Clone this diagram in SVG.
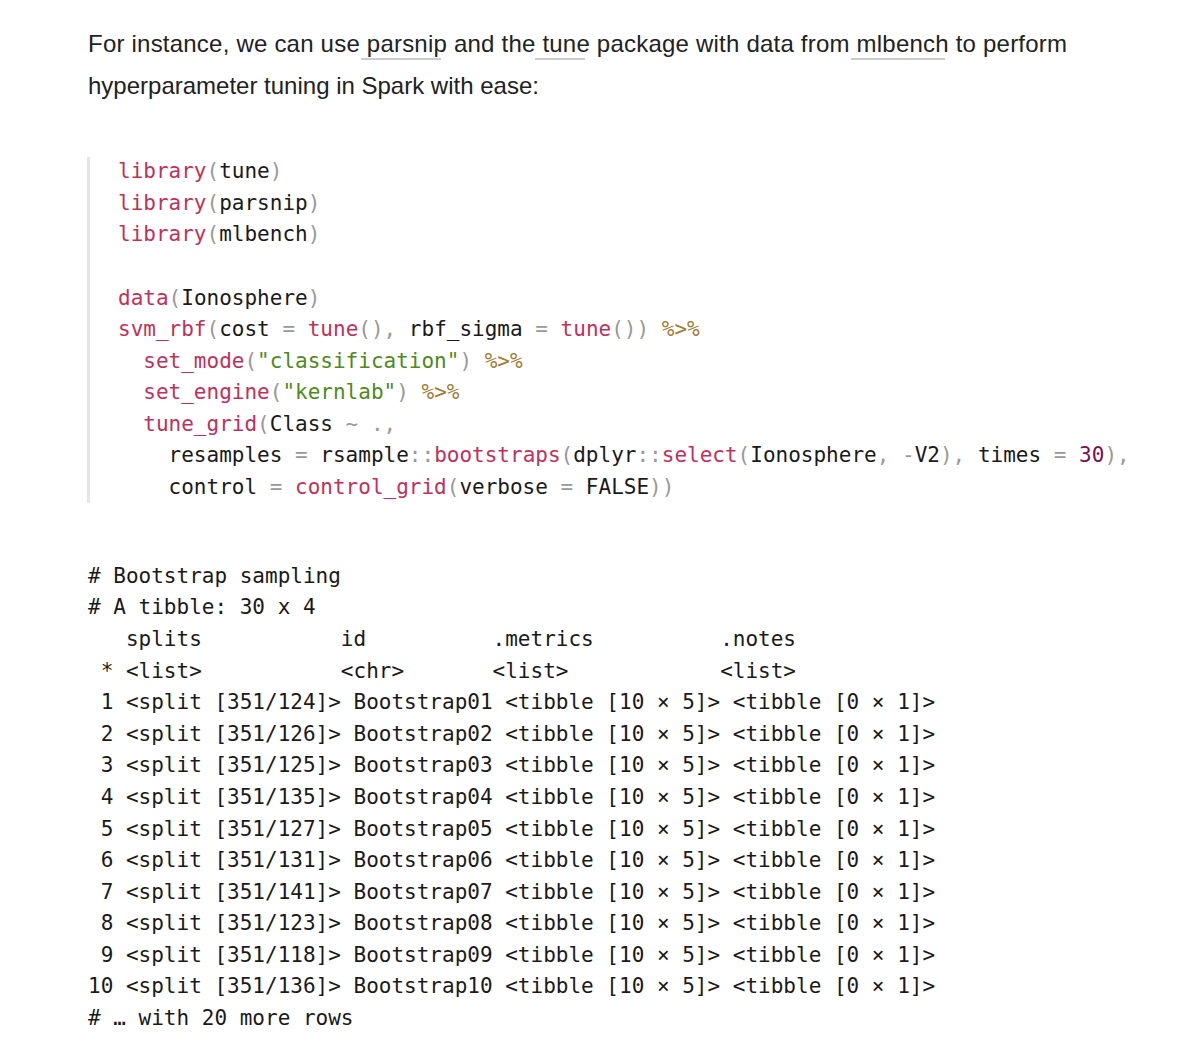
<svg xmlns="http://www.w3.org/2000/svg" width="1200" height="1058" viewBox="0 0 1200 1058">
<style>
.p{font-family:"Liberation Sans",Arial,sans-serif;font-size:24px;fill:#222}
.m{font-family:"DejaVu Sans Mono",monospace;font-size:21px;fill:#1a1a1a;white-space:pre}
.f{fill:#c2305a}.g{fill:#999}.s{fill:#4e8a1c}.o{fill:#a07a30}.n{fill:#7a1050}
</style>
<rect width="1200" height="1058" fill="#fff"/>
<text class="p" x="88" y="52" textLength="979">For instance, we can use parsnip and the tune package with data from mlbench to perform</text>
<text class="p" x="88" y="94">hyperparameter tuning in Spark with ease:</text>
<g stroke="#999" stroke-width="1.2"><line x1="361" y1="59" x2="441" y2="59"/><line x1="535" y1="59" x2="585" y2="59"/><line x1="851" y1="59" x2="945" y2="59"/></g>
<rect x="87" y="157" width="3" height="346" fill="#e6e6e6"/>
<g class="m">
<text xml:space="preserve" x="118" y="178"><tspan class="f">library</tspan><tspan class="g">(</tspan>tune<tspan class="g">)</tspan></text>
<text xml:space="preserve" x="118" y="210"><tspan class="f">library</tspan><tspan class="g">(</tspan>parsnip<tspan class="g">)</tspan></text>
<text xml:space="preserve" x="118" y="241"><tspan class="f">library</tspan><tspan class="g">(</tspan>mlbench<tspan class="g">)</tspan></text>
<text xml:space="preserve" x="118" y="305"><tspan class="f">data</tspan><tspan class="g">(</tspan>Ionosphere<tspan class="g">)</tspan></text>
<text xml:space="preserve" x="118" y="336"><tspan class="f">svm_rbf</tspan><tspan class="g">(</tspan>cost <tspan class="g">=</tspan> <tspan class="f">tune</tspan><tspan class="g">(),</tspan> rbf_sigma <tspan class="g">=</tspan> <tspan class="f">tune</tspan><tspan class="g">())</tspan> <tspan class="o">%&gt;%</tspan></text>
<text xml:space="preserve" x="118" y="368">  <tspan class="f">set_mode</tspan><tspan class="g">(</tspan><tspan class="s">"classification"</tspan><tspan class="g">)</tspan> <tspan class="o">%&gt;%</tspan></text>
<text xml:space="preserve" x="118" y="399">  <tspan class="f">set_engine</tspan><tspan class="g">(</tspan><tspan class="s">"kernlab"</tspan><tspan class="g">)</tspan> <tspan class="o">%&gt;%</tspan></text>
<text xml:space="preserve" x="118" y="431">  <tspan class="f">tune_grid</tspan><tspan class="g">(</tspan>Class <tspan class="g">~ .,</tspan></text>
<text xml:space="preserve" x="118" y="462">    resamples <tspan class="g">=</tspan> rsample<tspan class="g">::</tspan><tspan class="f">bootstraps</tspan><tspan class="g">(</tspan>dplyr<tspan class="g">::</tspan><tspan class="f">select</tspan><tspan class="g">(</tspan>Ionosphere<tspan class="g">,</tspan> <tspan class="g">-</tspan>V2<tspan class="g">),</tspan> times <tspan class="g">=</tspan> <tspan class="n">30</tspan><tspan class="g">),</tspan></text>
<text xml:space="preserve" x="118" y="494">    control <tspan class="g">=</tspan> <tspan class="f">control_grid</tspan><tspan class="g">(</tspan>verbose <tspan class="g">=</tspan> FALSE<tspan class="g">))</tspan></text>
<text xml:space="preserve" x="88" y="583"># Bootstrap sampling</text>
<text xml:space="preserve" x="88" y="614"># A tibble: 30 x 4</text>
<text xml:space="preserve" x="88" y="646">   splits           id          .metrics          .notes</text>
<text xml:space="preserve" x="88" y="678"> * &lt;list&gt;           &lt;chr&gt;       &lt;list&gt;            &lt;list&gt;</text>
<text xml:space="preserve" x="88" y="709"> 1 &lt;split [351/124]&gt; Bootstrap01 &lt;tibble [10 × 5]&gt; &lt;tibble [0 × 1]&gt;</text>
<text xml:space="preserve" x="88" y="741"> 2 &lt;split [351/126]&gt; Bootstrap02 &lt;tibble [10 × 5]&gt; &lt;tibble [0 × 1]&gt;</text>
<text xml:space="preserve" x="88" y="772"> 3 &lt;split [351/125]&gt; Bootstrap03 &lt;tibble [10 × 5]&gt; &lt;tibble [0 × 1]&gt;</text>
<text xml:space="preserve" x="88" y="804"> 4 &lt;split [351/135]&gt; Bootstrap04 &lt;tibble [10 × 5]&gt; &lt;tibble [0 × 1]&gt;</text>
<text xml:space="preserve" x="88" y="836"> 5 &lt;split [351/127]&gt; Bootstrap05 &lt;tibble [10 × 5]&gt; &lt;tibble [0 × 1]&gt;</text>
<text xml:space="preserve" x="88" y="867"> 6 &lt;split [351/131]&gt; Bootstrap06 &lt;tibble [10 × 5]&gt; &lt;tibble [0 × 1]&gt;</text>
<text xml:space="preserve" x="88" y="899"> 7 &lt;split [351/141]&gt; Bootstrap07 &lt;tibble [10 × 5]&gt; &lt;tibble [0 × 1]&gt;</text>
<text xml:space="preserve" x="88" y="930"> 8 &lt;split [351/123]&gt; Bootstrap08 &lt;tibble [10 × 5]&gt; &lt;tibble [0 × 1]&gt;</text>
<text xml:space="preserve" x="88" y="962"> 9 &lt;split [351/118]&gt; Bootstrap09 &lt;tibble [10 × 5]&gt; &lt;tibble [0 × 1]&gt;</text>
<text xml:space="preserve" x="88" y="993">10 &lt;split [351/136]&gt; Bootstrap10 &lt;tibble [10 × 5]&gt; &lt;tibble [0 × 1]&gt;</text>
<text xml:space="preserve" x="88" y="1025"># … with 20 more rows</text>
</g>
</svg>
